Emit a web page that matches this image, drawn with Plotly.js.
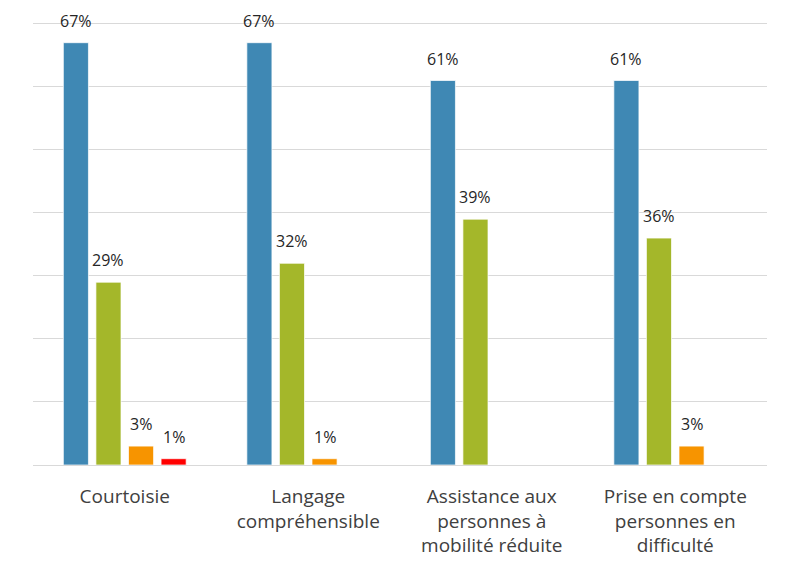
<!DOCTYPE html>
<html>
<head>
<meta charset="utf-8">
<script src="https://cdn.plot.ly/plotly-3.0.1.min.js"></script>
<style>html,body{margin:0;padding:0;background:#fff;}#chart{width:789px;height:563px;}</style>
</head>
<body>
<div id="chart"></div>
<script>
const categories = [
  "Courtoisie",
  "Langage<br>compréhensible",
  "Assistance aux<br>personnes à<br>mobilité réduite",
  "Prise en compte<br>personnes en<br>difficulté"
];
const seriesBlue = [67, 67, 61, 61];
const seriesGreen = [29, 32, 39, 36];
const seriesOrange = [3, 1, null, 3];
const seriesRed = [1, null, null, null];

const colors = ["#3f88b4", "#a4b72a", "#f79400", "#ff0000"];
const allSeries = [seriesBlue, seriesGreen, seriesOrange, seriesRed];

const BARGAP = 0.29;
const BARGROUPGAP = 0.23;
const FONT = "Open Sans, sans-serif";

const traces = allSeries.map((vals, i) => ({
  type: "bar",
  x: categories,
  y: vals,
  marker: { color: colors[i], line: { color: "rgba(255,255,255,0.7)", width: 1 } },
  hoverinfo: "skip",
  showlegend: false
}));

// data labels: placed above each bar via the axis scales
const nSeries = allSeries.length;
const slot = (1 - BARGAP) / nSeries;
const annotations = [];
allSeries.forEach((vals, i) => {
  vals.forEach((v, c) => {
    if (v === null) return;
    annotations.push({
      x: c - (1 - BARGAP) / 2 + slot * (i + 0.5),
      y: v,
      xref: "x",
      yref: "y",
      text: v + "%",
      showarrow: false,
      yanchor: "middle",
      yshift: 22,
      font: { family: FONT, size: 16, color: "#262626" }
    });
  });
});

const layout = {
  width: 789,
  height: 563,
  margin: { l: 33, r: 22, t: 20, b: 98 },
  paper_bgcolor: "#ffffff",
  plot_bgcolor: "#ffffff",
  barmode: "group",
  bargap: BARGAP,
  bargroupgap: BARGROUPGAP,
  showlegend: false,
  annotations: annotations,
  xaxis: {
    type: "category",
    showgrid: false,
    zeroline: false,
    showline: false,
    ticks: "",
    ticklabelstandoff: 18,
    tickfont: { family: FONT, size: 19, color: "#404040" }
  },
  yaxis: {
    range: [0, 70.6],
    dtick: 10,
    showticklabels: false,
    showgrid: true,
    gridcolor: "#d9d9d9",
    gridwidth: 1,
    zeroline: true,
    zerolinecolor: "#d9d9d9",
    zerolinewidth: 1,
    ticks: ""
  }
};

Plotly.newPlot("chart", traces, layout, { displayModeBar: false, staticPlot: true });
</script>
</body>
</html>
